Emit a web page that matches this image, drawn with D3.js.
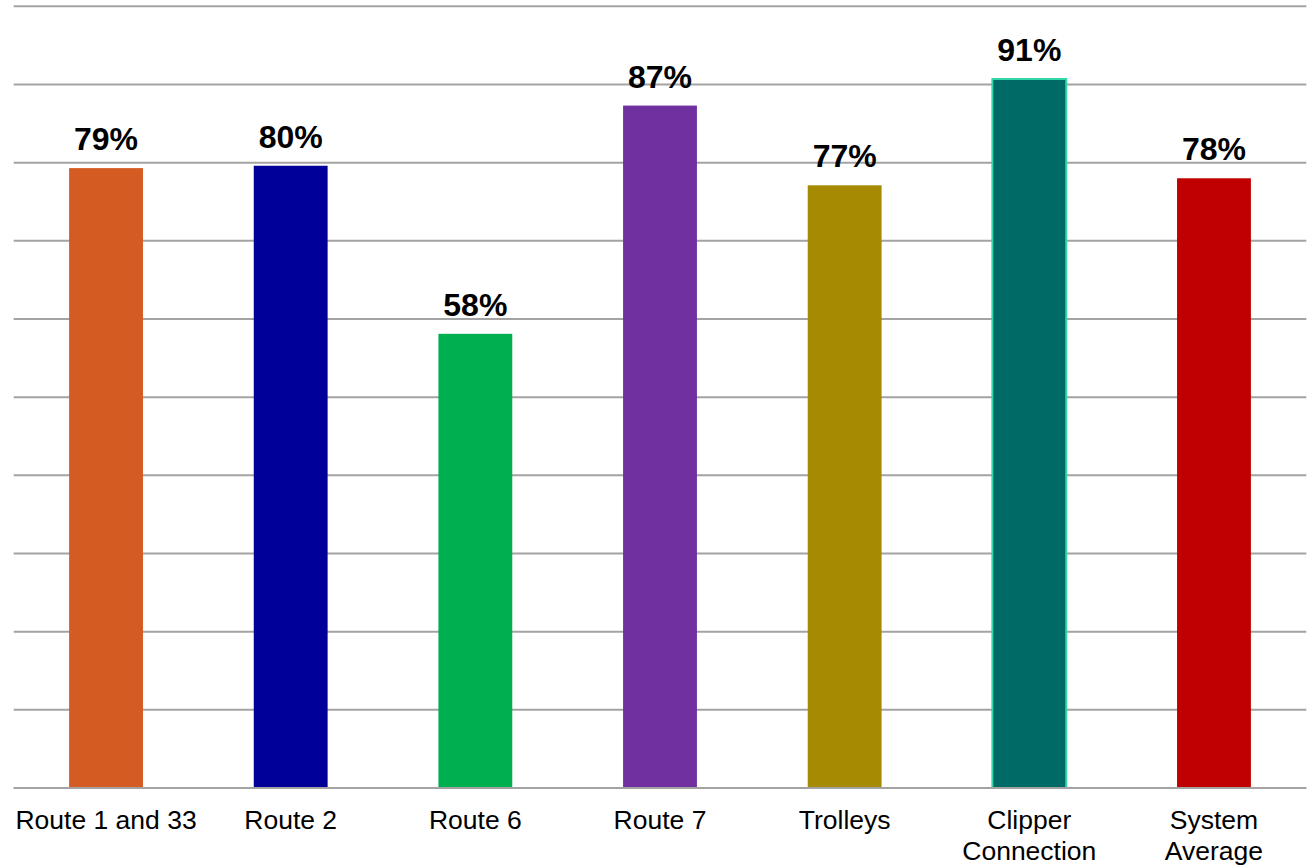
<!DOCTYPE html>
<html>
<head>
<meta charset="utf-8">
<script src="https://cdn.jsdelivr.net/npm/d3@7"></script>
<style>
  html, body { margin: 0; padding: 0; background: #fff; }
  svg { display: block; }
</style>
</head>
<body>
<svg id="chart" width="1309" height="866"></svg>
<script>
const categories = ["Route 1 and 33", "Route 2", "Route 6", "Route 7", "Trolleys", "Clipper Connection", "System Average"];
const categoryLines = [["Route 1 and 33"], ["Route 2"], ["Route 6"], ["Route 7"], ["Trolleys"], ["Clipper", "Connection"], ["System", "Average"]];
const values = [79.3, 79.6, 58.1, 87.3, 77.1, 90.7, 78.0];
const valueLabels = ["79%", "80%", "58%", "87%", "77%", "91%", "78%"];
const barColors = ["#D45B21", "#000099", "#00B050", "#7030A0", "#A68A02", "#006A66", "#C00000"];
const barStrokes = [null, null, null, null, null, "#33D6A6", null];
const gridTicks = [0, 10, 20, 30, 40, 50, 60, 70, 80, 90, 100];

(function () {
const svg = d3.select("#chart");
const mLeft = 13.7, mRight = 1306.3, mTop = 6.3, mBottom = 788;

const x = d3.scaleBand().domain(categories).range([mLeft, mRight]).paddingInner(0.6).paddingOuter(0.3);
const y = d3.scaleLinear().domain([0, 100]).range([mBottom, mTop]);

// gridlines
svg.append("g").selectAll("line").data(gridTicks).join("line")
  .attr("x1", mLeft).attr("x2", mRight)
  .attr("y1", d => y(d)).attr("y2", d => y(d))
  .attr("stroke", "#A3A3A3").attr("stroke-width", 2);

// bars
svg.append("g").selectAll("rect").data(categories).join("rect")
  .attr("x", d => x(d))
  .attr("width", x.bandwidth())
  .attr("y", (d, i) => y(values[i]))
  .attr("height", (d, i) => y(0) - y(values[i]))
  .attr("fill", (d, i) => barColors[i])
  .attr("stroke", (d, i) => barStrokes[i] || "none")
  .attr("stroke-width", 2);

// baseline on top
svg.append("line").attr("x1", mLeft).attr("x2", mRight).attr("y1", y(0)).attr("y2", y(0))
  .attr("stroke", "#A3A3A3").attr("stroke-width", 2);

// value labels
svg.append("g").selectAll("text").data(categories).join("text")
  .attr("x", d => x(d) + x.bandwidth() / 2)
  .attr("y", (d, i) => y(values[i]) - 18)
  .attr("text-anchor", "middle")
  .attr("font-family", "'Liberation Sans', Arial, sans-serif")
  .attr("font-weight", "bold")
  .attr("font-size", 32)
  .attr("fill", "#000")
  .text((d, i) => valueLabels[i]);

// category labels
const catG = svg.append("g");
categories.forEach((c, i) => {
  const t = catG.append("text")
    .attr("x", x(c) + x.bandwidth() / 2)
    .attr("y", 829)
    .attr("text-anchor", "middle")
    .attr("font-family", "'Liberation Sans', Arial, sans-serif")
    .attr("font-size", 26.5)
    .attr("fill", "#000");
  categoryLines[i].forEach((line, j) => {
    t.append("tspan").attr("x", x(c) + x.bandwidth() / 2).attr("dy", j === 0 ? 0 : 31).text(line);
  });
});
})();
</script>
</body>
</html>
